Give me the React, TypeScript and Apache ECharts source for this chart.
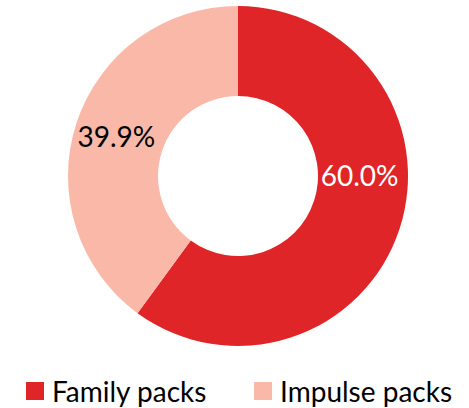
import React, { useEffect, useRef } from "react";
import * as echarts from "echarts";

const categories = ["Family packs", "Impulse packs"];
const shares = [60.0, 39.9];
const colors = ["#DF2527", "#F9B8A8"];
const labelColors = ["#FFFFFF", "#000000"];

export default function App() {
  const ref = useRef<HTMLDivElement>(null);
  useEffect(() => {
    document.body.style.margin = "0";
    const chart = echarts.init(ref.current!, null, { renderer: "svg" });
    const font = "Lato, 'Open Sans', sans-serif";
    chart.setOption({
      animation: false,
      legend: {
        top: 372,
        left: 21,
        icon: "rect",
        itemWidth: 18,
        itemHeight: 18,
        itemGap: 47,
        textStyle: { fontSize: 28, fontFamily: font, color: "#000", padding: [0, 0, 0, 3] },
        data: categories,
      },
      series: [
        {
          type: "pie",
          center: [238, 176],
          radius: [80, 170],
          startAngle: 90,
          clockwise: true,
          label: {
            position: "inside",
            fontSize: 28,
            fontFamily: font,
            formatter: (p: any) => p.value.toFixed(1) + "%",
          },
          labelLayout: (p: any) => (p.dataIndex === 0 ? { dy: -41 } : {}),
          labelLine: { show: false },
          data: categories.map((name, i) => ({
            name,
            value: shares[i],
            itemStyle: { color: colors[i] },
            label: { color: labelColors[i] },
          })),
        },
      ],
    });
    return () => chart.dispose();
  }, []);
  return <div ref={ref} style={{ width: 469, height: 408 }} />;
}
